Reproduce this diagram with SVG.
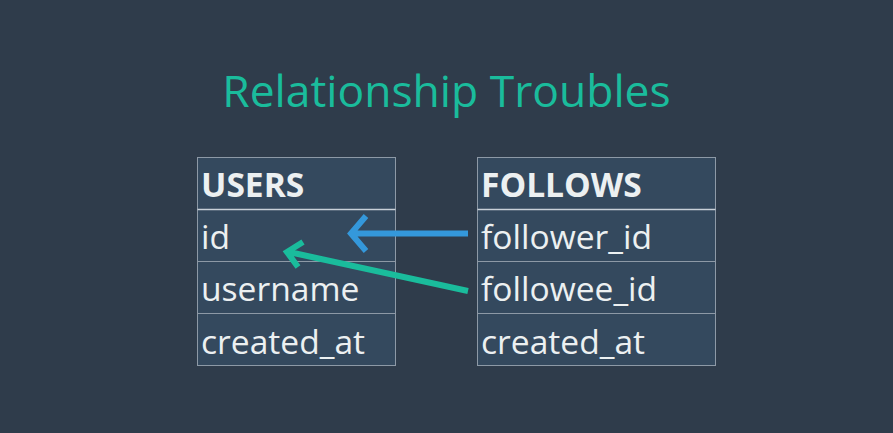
<svg xmlns="http://www.w3.org/2000/svg" width="893" height="433" viewBox="0 0 893 433">
<style>
.bg{fill:#2f3c4b}
.cell{fill:#34495e;stroke:#8d99a6;stroke-width:1}
.hl{stroke:#c8d0d8;stroke-width:1.5}
.t{font-family:"Open Sans","Noto Sans",sans-serif;font-size:33.6px;fill:#ecf0f1}
.h{font-weight:bold}
.title{font-family:"Open Sans","Noto Sans",sans-serif;font-size:44.4px;fill:#1abc9c}
.arr{fill:none;stroke-width:6;stroke-linecap:butt;stroke-linejoin:miter}
</style>
<rect class="bg" x="0" y="0" width="893" height="433"/>
<text class="title" x="446.5" y="107" text-anchor="middle">Relationship Troubles</text>
<g id="users">
<rect class="cell" x="197.5" y="157.5" width="198" height="52"/>
<rect class="cell" x="197.5" y="209.5" width="198" height="52"/>
<rect class="cell" x="197.5" y="261.5" width="198" height="52"/>
<rect class="cell" x="197.5" y="313.5" width="198" height="52"/>
<line class="hl" x1="197.5" y1="209.5" x2="395.5" y2="209.5"/>
<text class="t h" x="201" y="197">USERS</text>
<text class="t" x="201" y="249">id</text>
<text class="t" x="201" y="301">username</text>
<text class="t" x="201" y="354">created_at</text>
</g>
<g id="follows">
<rect class="cell" x="477.5" y="157.5" width="238" height="52"/>
<rect class="cell" x="477.5" y="209.5" width="238" height="52"/>
<rect class="cell" x="477.5" y="261.5" width="238" height="52"/>
<rect class="cell" x="477.5" y="313.5" width="238" height="52"/>
<line class="hl" x1="477.5" y1="209.5" x2="715.5" y2="209.5"/>
<text class="t h" x="481" y="197">FOLLOWS</text>
<text class="t" x="481" y="249">follower_id</text>
<text class="t" x="481" y="301">followee_id</text>
<text class="t" x="481" y="354">created_at</text>
</g>
<g id="connectors">
<path class="arr" stroke="#3498db" d="M468,233.5 H353 M366,216 L351,233.5 L366,251"/>
<path class="arr" stroke="#1abc9c" d="M468,291 L289,252 M303,242 L287,252 L298,267"/>
</g>
</svg>
